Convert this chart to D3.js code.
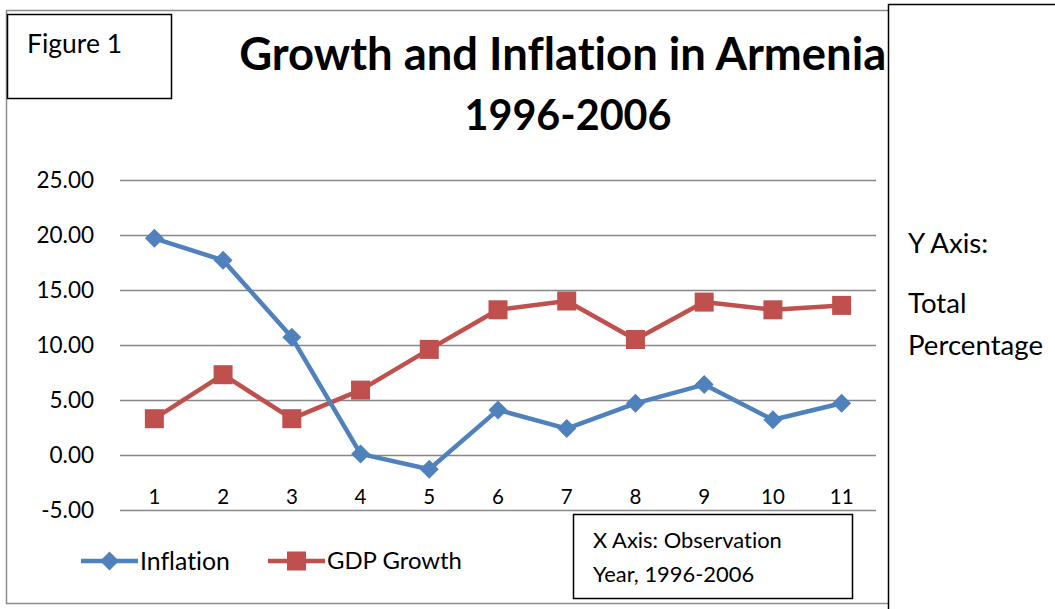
<!DOCTYPE html>
<html><head><meta charset="utf-8">
<script src="https://cdn.jsdelivr.net/npm/d3@7"></script>
<style>
html,body{margin:0;padding:0;background:#fff;}
svg{display:block;}
text{font-family:Lato, "Open Sans", sans-serif;fill:#000;font-variant-ligatures:none;font-feature-settings:"liga" 0;}
</style></head>
<body>
<script>
const categories = ["1","2","3","4","5","6","7","8","9","10","11"];
const inflation = [19.7, 17.7, 10.7, 0.1, -1.3, 4.1, 2.4, 4.7, 6.4, 3.2, 4.7];
const gdpGrowth = [3.3, 7.3, 3.3, 5.9, 9.6, 13.2, 14.0, 10.5, 13.9, 13.2, 13.6];
const yTicks = [-5, 0, 5, 10, 15, 20, 25];
const seriesNames = ["Inflation", "GDP Growth"];
const titleLines = ["Growth and Inflation in Armenia,", "1996-2006"];

const W = 1055, H = 609;
const svg = d3.select("body").append("svg").attr("width", W).attr("height", H);

function fit(sel, target) {
  const w = sel.node().getComputedTextLength();
  const fs = parseFloat(sel.attr("font-size"));
  sel.attr("font-size", fs * target / w);
}

// outer chart border
svg.append("rect").attr("x", 6.5).attr("y", 10.5).attr("width", 900).attr("height", 593)
  .attr("fill", "#fff").attr("stroke", "#8c8c8c").attr("stroke-width", 1.5);

const plot = {left: 120, right: 876, top: 180, bottom: 510};
const x = d3.scaleBand().domain(categories).range([plot.left, plot.right]);
const y = d3.scaleLinear().domain([-5, 25]).range([plot.bottom, plot.top]);

// gridlines + y labels
const fmt = d => d3.format(".2f")(d).replace("\u2212", "-");
const yAxis = svg.append("g").attr("transform", `translate(${plot.left},0)`)
  .call(d3.axisLeft(y).tickValues(yTicks).tickFormat(fmt)
    .tickSize(-(plot.right - plot.left)).tickPadding(26));
yAxis.select(".domain").remove();
yAxis.selectAll("line").attr("stroke", "#878787").attr("stroke-width", 1.5);
yAxis.selectAll("text").attr("font-size", 22.5).attr("font-family", "Lato").attr("fill", "#000");

// x labels
const xAxis = svg.append("g").attr("transform", `translate(0,489)`)
  .call(d3.axisBottom(x).tickSize(0).tickPadding(0));
xAxis.select(".domain").remove();
xAxis.selectAll("text").attr("font-size", 20.5).attr("font-family", "Lato").attr("fill", "#000");

const cx = d => x(d) + x.bandwidth() / 2;
const line = d3.line().x((d, i) => cx(categories[i])).y(d => y(d));

const blue = "#4F81BD", red = "#C0504D";
svg.append("path").datum(gdpGrowth).attr("d", line).attr("fill", "none")
  .attr("stroke", red).attr("stroke-width", 4.5).attr("stroke-linejoin", "round");
svg.append("path").datum(inflation).attr("d", line).attr("fill", "none")
  .attr("stroke", blue).attr("stroke-width", 4.5).attr("stroke-linejoin", "round");

const sq = 19, dm = 9.5;
svg.append("g").selectAll("rect").data(gdpGrowth).join("rect")
  .attr("x", (d, i) => cx(categories[i]) - sq / 2).attr("y", d => y(d) - sq / 2)
  .attr("width", sq).attr("height", sq).attr("fill", red);
const diamond = (px, py) => `M${px},${py - dm}L${px + dm},${py}L${px},${py + dm}L${px - dm},${py}Z`;
svg.append("g").selectAll("path").data(inflation).join("path")
  .attr("d", (d, i) => diamond(cx(categories[i]), y(d))).attr("fill", blue);

// legend
const legY = 561;
const leg = [{x0: 81, x1: 138, c: blue, t: 140, shape: "d", w: 90}, {x0: 268, x1: 325, c: red, t: 327, shape: "s", w: 135}];
leg.forEach((l, i) => {
  svg.append("line").attr("x1", l.x0).attr("x2", l.x1).attr("y1", legY).attr("y2", legY)
    .attr("stroke", l.c).attr("stroke-width", 4.5);
  const mx = (l.x0 + l.x1) / 2;
  if (l.shape === "d") svg.append("path").attr("d", diamond(mx, legY)).attr("fill", l.c);
  else svg.append("rect").attr("x", mx - sq / 2).attr("y", legY - sq / 2).attr("width", sq).attr("height", sq).attr("fill", l.c);
  const t = svg.append("text").attr("x", l.t).attr("y", legY).attr("dy", "0.35em").attr("font-size", 21).text(seriesNames[i]);
  fit(t, l.w);
});

// title
const t1 = svg.append("text").attr("x", 568).attr("y", 70).attr("text-anchor", "middle")
  .attr("font-weight", "bold").attr("font-size", 38).text(titleLines[0]);
fit(t1, 658);
const t2 = svg.append("text").attr("x", 568).attr("y", 130).attr("text-anchor", "middle")
  .attr("font-weight", "bold").attr("font-size", 38).text(titleLines[1]);
fit(t2, 207);

// Figure 1 box
svg.append("rect").attr("x", 7.5).attr("y", 14.5).attr("width", 164).attr("height", 84)
  .attr("fill", "#fff").attr("stroke", "#000").attr("stroke-width", 1.5);
const f1 = svg.append("text").attr("x", 27).attr("y", 53).attr("font-size", 21).text("Figure 1");
fit(f1, 95);

// X axis box
svg.append("rect").attr("x", 573.5).attr("y", 514.5).attr("width", 279).attr("height", 84)
  .attr("fill", "#fff").attr("stroke", "#000").attr("stroke-width", 1.5);
const xl1 = svg.append("text").attr("x", 593).attr("y", 548).attr("font-size", 18).text("X Axis: Observation");
fit(xl1, 189);
const xl2 = svg.append("text").attr("x", 593).attr("y", 582).attr("font-size", 18).text("Year, 1996-2006");
xl2.attr("font-size", xl1.attr("font-size"));

// Y axis box (on top, clips title)
svg.append("rect").attr("x", 888.5).attr("y", 4.5).attr("width", 200).attr("height", 620)
  .attr("fill", "#fff").attr("stroke", "#000").attr("stroke-width", 1.5);
const yl = ["Y Axis:", "Total", "Percentage"], yly = [253, 313, 355];
const ytexts = yl.map((s, i) => svg.append("text").attr("x", 908).attr("y", yly[i]).attr("font-size", 22).text(s));
fit(ytexts[2], 135);
ytexts.forEach(t => t.attr("font-size", ytexts[2].attr("font-size")));
</script>
</body></html>
